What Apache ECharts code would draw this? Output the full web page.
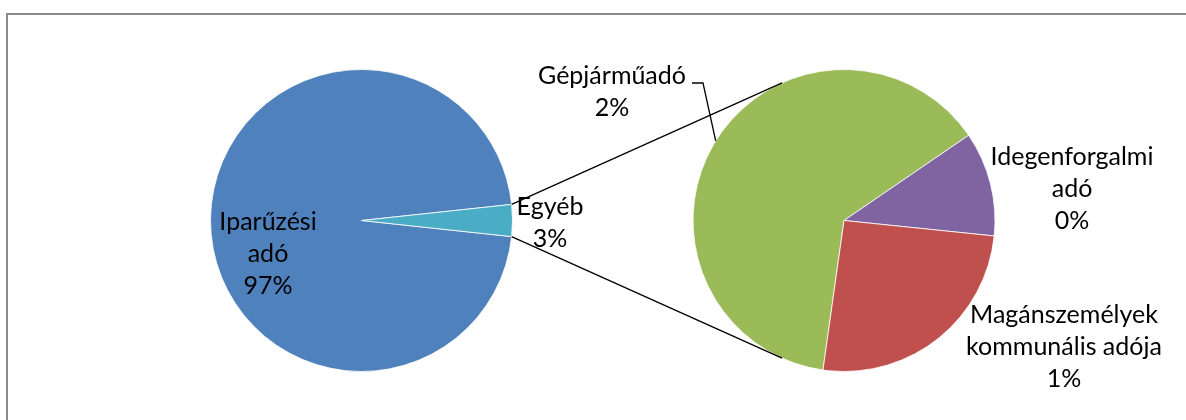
<!DOCTYPE html>
<html>
<head>
<meta charset="utf-8">
<script src="https://cdn.jsdelivr.net/npm/echarts@6/dist/echarts.min.js"></script>
<style>
  html, body { margin: 0; padding: 0; background: #fff; }
  #chart { width: 1186px; height: 420px; }
</style>
</head>
<body>
<div id="chart"></div>
<script>
// Local tax revenue shares; "Egyéb" is broken down in the secondary pie.
const mainCategories = ['Iparűzési adó', 'Egyéb'];
const mainValues = [96.6, 3.4];
const detailCategories = ['Gépjárműadó', 'Idegenforgalmi adó', 'Magánszemélyek kommunális adója'];
const detailValues = [2.15, 0.38, 0.87];

const mainColors = ['#4F81BD', '#4BACC6'];
const detailColors = ['#9BBB59', '#8064A2', '#C0504D'];

// Layout
const R = 151;
const mainCenter = [361.5, 220.5];
const detailCenter = [844, 220.5];
const detailStart = 262;
const mainLabelAnchors = [[268, 254], [550, 222.5]];
const detailLabelAnchors = [[612, 91.5], [1072, 189], [1064, 347]];
const leaderElbow = [703, 83];
const leaderEnd = [692, 83];
const FONT = 'Lato';

const grand = mainValues.reduce((a, b) => a + b, 0);
const otherSweep = mainValues[1] / grand * 360;
const mainStart = 360 - otherSweep / 2;

const rad = d => d * Math.PI / 180;
const polar = (c, r, deg) => [c[0] + r * Math.cos(rad(deg)), c[1] - r * Math.sin(rad(deg))];

// Connector lines: from the edges of the "Egyéb" slice, tangent to the secondary pie
function tangentPoint(p, c, r, upper) {
  const dx = p[0] - c[0], dy = -(p[1] - c[1]);
  const d = Math.hypot(dx, dy);
  const phi = Math.atan2(dy, dx) * 180 / Math.PI;
  const alpha = Math.acos(r / d) * 180 / Math.PI;
  return polar(c, r, upper ? phi - alpha : phi + alpha);
}
const edgeTop = polar(mainCenter, R, otherSweep / 2);
const edgeBottom = polar(mainCenter, R, -otherSweep / 2);
const tanTop = tangentPoint(edgeTop, detailCenter, R, true);
const tanBottom = tangentPoint(edgeBottom, detailCenter, R, false);

// Leader from the Gépjárműadó label to the middle of its slice
const detailTotal = detailValues.reduce((a, b) => a + b, 0);
const firstMid = detailStart - (detailValues[0] / detailTotal * 360) / 2;
const leaderTip = polar(detailCenter, R, firstMid);

const pct = v => Math.round(v / grand * 100) + '%';
const fmt = p => p.name.replace(' ', '\n') + '\n' + pct(p.value);

const labelStyle = {
  show: true,
  position: 'outside',
  color: '#000',
  fontFamily: FONT,
  fontSize: 25,
  lineHeight: 32,
  align: 'center',
  formatter: fmt
};

const chart = echarts.init(document.getElementById('chart'), null, { renderer: 'canvas' });
chart.setOption({
  backgroundColor: '#fff',
  animation: false,
  graphic: [
    {
      type: 'rect', silent: true, z: 0,
      shape: { x: 7, y: 14, width: 1400, height: 700 },
      style: { fill: 'none', stroke: '#8a8a8a', lineWidth: 2 }
    },
    {
      type: 'line', silent: true, z: 10,
      shape: { x1: edgeTop[0], y1: edgeTop[1], x2: tanTop[0], y2: tanTop[1] },
      style: { stroke: '#000', lineWidth: 1.3 }
    },
    {
      type: 'line', silent: true, z: 10,
      shape: { x1: edgeBottom[0], y1: edgeBottom[1], x2: tanBottom[0], y2: tanBottom[1] },
      style: { stroke: '#000', lineWidth: 1.3 }
    },
    {
      type: 'polyline', silent: true, z: 10,
      shape: { points: [leaderEnd, leaderElbow, leaderTip] },
      style: { stroke: '#000', lineWidth: 1.3, fill: 'none' }
    }
  ],
  series: [
    {
      type: 'pie',
      center: mainCenter,
      radius: R,
      startAngle: mainStart,
      clockwise: true,
      avoidLabelOverlap: false,
      silent: true,
      label: labelStyle,
      labelLine: { show: false },
      labelLayout: p => ({
        x: mainLabelAnchors[p.dataIndex][0],
        y: mainLabelAnchors[p.dataIndex][1],
        align: 'center',
        verticalAlign: 'middle'
      }),
      itemStyle: { borderColor: '#fff', borderWidth: 0.8 },
      emphasis: { disabled: true },
      data: mainCategories.map((name, i) => ({
        name, value: mainValues[i], itemStyle: { color: mainColors[i] }
      }))
    },
    {
      type: 'pie',
      center: detailCenter,
      radius: R,
      startAngle: detailStart,
      clockwise: true,
      avoidLabelOverlap: false,
      silent: true,
      label: labelStyle,
      labelLine: { show: false },
      labelLayout: p => ({
        x: detailLabelAnchors[p.dataIndex][0],
        y: detailLabelAnchors[p.dataIndex][1],
        align: 'center',
        verticalAlign: 'middle'
      }),
      itemStyle: { borderColor: '#fff', borderWidth: 0.8 },
      emphasis: { disabled: true },
      data: detailCategories.map((name, i) => ({
        name, value: detailValues[i], itemStyle: { color: detailColors[i] }
      }))
    }
  ]
});
</script>
</body>
</html>
